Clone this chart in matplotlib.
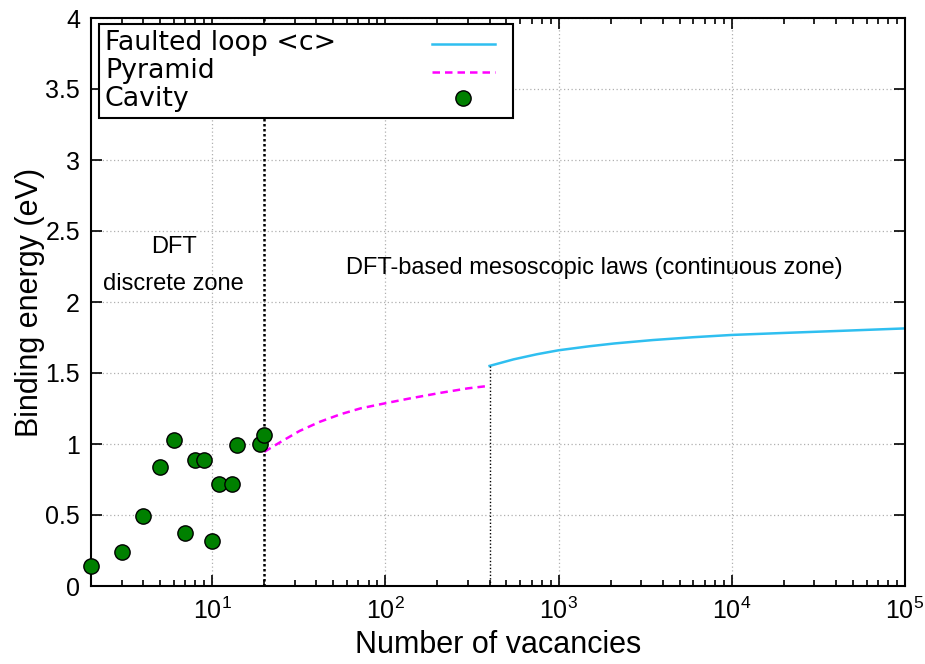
import matplotlib
matplotlib.use("Agg")
import matplotlib.pyplot as plt
from matplotlib.lines import Line2D
from matplotlib.patches import Rectangle
from matplotlib.ticker import LogLocator, NullFormatter, FixedLocator

plt.rcParams["font.family"] = ["Liberation Sans", "DejaVu Sans"]
plt.rcParams["mathtext.default"] = "regular"

# cavity: DFT discrete values
cavity_n = [2, 3, 4, 5, 6, 7, 8, 9, 10, 11, 13, 14, 19, 20]
cavity_e = [0.14, 0.24, 0.49, 0.84, 1.03, 0.37, 0.885, 0.885, 0.32, 0.72, 0.72, 0.99, 1.0, 1.06]

# pyramid law
pyramid_n = [20, 25, 32, 42, 55, 72, 100, 140, 210, 300, 400]
pyramid_e = [0.945, 1.016, 1.092, 1.157, 1.209, 1.251, 1.287, 1.322, 1.361, 1.392, 1.41]

# faulted loop <c> law
loop_n = [400, 550, 750, 1000, 1500, 2100, 3500, 6000, 1e4, 2.2e4, 4.3e4, 1e5]
loop_e = [1.55, 1.596, 1.632, 1.66, 1.688, 1.708, 1.732, 1.752, 1.768, 1.784, 1.797, 1.814]

zone_limit = 20
loop_start = 400

LOOP_COLOR = "#2fbff0"
PYR_COLOR = "#ff00ff"
CAV_COLOR = "#008000"

W, H = 925, 664

fig = plt.figure(figsize=(W / 100, H / 100), dpi=100)
ax = fig.add_axes([91 / W, 1 - 586 / H, 814 / W, 568 / H])

ax.set_xscale("log")
ax.set_xlim(2, 1e5)
ax.set_ylim(0, 4)

ax.grid(True, which="major", color="#b0b0b0", linestyle=(0, (1, 2)), linewidth=0.9)
ax.set_axisbelow(True)

ax.plot(loop_n, loop_e, color=LOOP_COLOR, linewidth=1.8)
ax.plot(pyramid_n, pyramid_e, color=PYR_COLOR, linewidth=1.8, linestyle=(0, (3, 2)))
ax.plot(cavity_n, cavity_e, linestyle="none", marker="o", markersize=11,
        markerfacecolor=CAV_COLOR, markeredgecolor="black", markeredgewidth=1.0,
        clip_on=False, zorder=5)

ax.axvline(zone_limit, color="black", linestyle=(0, (1, 1)), linewidth=1.8, zorder=3)
ax.plot([loop_start, loop_start], [0, loop_e[0]], color="black",
        linestyle=(0, (1, 1.5)), linewidth=1.0, zorder=3)

ax.text(6, 2.39, "DFT", ha="center", va="center", fontsize=17)
ax.text(6, 2.13, "discrete zone", ha="center", va="center", fontsize=17)
ax.text(1600, 2.24, "DFT-based mesoscopic laws (continuous zone)",
        ha="center", va="center", fontsize=17)

ax.xaxis.set_major_locator(FixedLocator([1e1, 1e2, 1e3, 1e4, 1e5]))
ax.set_xticklabels([r"$10^{1}$", r"$10^{2}$", r"$10^{3}$", r"$10^{4}$", r"$10^{5}$"])
ax.xaxis.set_minor_locator(LogLocator(base=10, subs=range(2, 10), numticks=20))
ax.xaxis.set_minor_formatter(NullFormatter())
ax.set_yticks([0, 0.5, 1, 1.5, 2, 2.5, 3, 3.5, 4])
ax.set_yticklabels(["0", "0.5", "1", "1.5", "2", "2.5", "3", "3.5", "4"])

ax.tick_params(which="both", direction="in", top=True, right=True, labelsize=18,
               width=1.2, pad=8)
ax.tick_params(which="major", length=8)
ax.tick_params(which="minor", length=4)
for spine in ax.spines.values():
    spine.set_linewidth(1.5)

ax.set_xlabel("Number of vacancies", fontsize=22, labelpad=5)
ax.set_ylabel("Binding energy (eV)", fontsize=22)
ax.yaxis.set_label_coords(-0.057, 0.5)


# gnuplot-style key: text left, sample right, drawn by hand
def fpx(x, y):
    return x / W, 1 - y / H


x0, y0 = fpx(99, 118)
x1, y1 = fpx(513, 24)
fig.add_artist(Rectangle((x0, y0), x1 - x0, y1 - y0, transform=fig.transFigure,
                         facecolor="white", edgecolor="black", linewidth=1.5,
                         zorder=10))
key_rows = [("Faulted loop <c>", 43), ("Pyramid", 71), ("Cavity", 99)]
for label, yy in key_rows:
    tx, ty = fpx(105, yy)
    fig.text(tx, ty, label, ha="left", va="center", fontsize=19.3,
             family="DejaVu Sans", zorder=11)

lx0, ly = fpx(432, 44)
lx1, _ = fpx(495, 44)
fig.add_artist(Line2D([lx0, lx1], [ly, ly], transform=fig.transFigure,
                      color=LOOP_COLOR, linewidth=1.8, zorder=11))
lx0, ly = fpx(432, 72)
fig.add_artist(Line2D([lx0, lx1], [ly, ly], transform=fig.transFigure,
                      color=PYR_COLOR, linewidth=1.8, linestyle=(0, (3, 2)), zorder=11))
mx, my = fpx(463, 98)
fig.add_artist(Line2D([mx], [my], transform=fig.transFigure, linestyle="none",
                      marker="o", markersize=11, markerfacecolor=CAV_COLOR,
                      markeredgecolor="black", markeredgewidth=1.0, zorder=11))

fig.savefig("out.png", dpi=100)
